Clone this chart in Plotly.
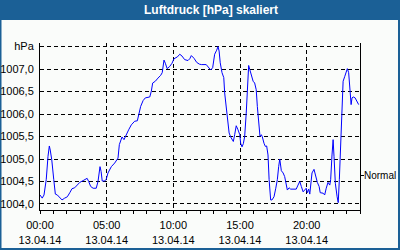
import plotly.graph_objects as go

# ---- data ----
times = ["00:00","00:10","00:18","00:28","00:36","00:42","00:46","00:53","01:02","01:09",
         "01:18","01:29","01:39","01:51","02:03","02:14","02:24","02:36","02:48","02:59",
         "03:14","03:32","03:39","03:48","03:59","04:13","04:21","04:30","04:35","04:40",
         "04:51","04:58","05:06","05:21","05:36","05:51","05:57","06:03","06:09","06:18",
         "06:27","06:39","06:51","07:06","07:18","07:26","07:33","07:44","07:54","08:14",
         "08:21","08:27","08:39","08:51","09:03","09:10","09:12","09:18","09:24","09:32",
         "09:44","09:54","10:03","10:18","10:29","10:39","10:51","11:06","11:14","11:21",
         "11:33","11:45","11:57","12:06","12:28","12:41","12:48","12:57","13:06","13:15",
         "13:21","13:26","13:31","13:39","13:47","13:51","13:57","14:03","14:11","14:18",
         "14:25","14:30","14:36","14:43","14:51","14:59","15:03","15:09","15:15","15:21",
         "15:28","15:33","15:39","15:44","15:51","15:59","16:06","16:13","16:18","16:24",
         "16:30","16:36","16:40","16:48","16:54","17:00","17:06","17:11","17:18","17:24",
         "17:33","17:41","17:48","17:54","17:59","18:06","18:14","18:21","18:27","18:33",
         "18:41","18:48","19:03","19:13","19:21","19:29","19:36","19:44","19:51","19:58",
         "20:03","20:09","20:14","20:18","20:24","20:33","20:41","20:48","20:56","21:01",
         "21:14","21:21","21:28","21:36","21:44","21:48","21:54","21:59","22:03","22:09",
         "22:17","22:22","22:27","22:33","22:39","22:44","22:51","22:58","23:03","23:09",
         "23:15","23:20","23:24","23:30","23:38","23:48","23:54"]
pressure = [1004.20,1004.13,1004.20,1004.54,1005.06,1005.29,1005.20,1004.98,1004.54,1004.22,
            1004.20,1004.15,1004.09,1004.13,1004.16,1004.25,1004.34,1004.36,1004.42,1004.48,
            1004.52,1004.57,1004.50,1004.39,1004.35,1004.35,1004.50,1004.83,1004.72,1004.51,
            1004.51,1004.55,1004.69,1004.83,1004.91,1005.02,1005.32,1005.43,1005.49,1005.43,
            1005.54,1005.65,1005.76,1005.84,1005.85,1005.99,1006.17,1006.30,1006.36,1006.38,
            1006.51,1006.69,1006.73,1006.80,1006.86,1006.92,1007.03,1007.20,1007.13,1007.01,
            1007.06,1007.13,1007.23,1007.27,1007.33,1007.29,1007.21,1007.19,1007.23,1007.30,
            1007.24,1007.15,1007.11,1007.10,1007.10,1007.03,1006.98,1007.03,1007.33,1007.42,
            1007.50,1007.40,1007.14,1006.92,1006.81,1006.47,1006.17,1005.88,1005.58,1005.49,
            1005.43,1005.39,1005.54,1005.74,1005.65,1005.54,1005.35,1005.27,1005.34,1005.50,
            1006.02,1006.62,1007.08,1006.99,1006.84,1006.73,1006.69,1006.54,1006.17,1005.80,
            1005.50,1005.54,1005.50,1005.35,1005.28,1005.29,1005.09,1004.54,1004.09,1004.09,
            1004.16,1004.35,1004.54,1004.83,1005.00,1004.74,1004.69,1004.61,1004.46,1004.31,
            1004.36,1004.33,1004.33,1004.33,1004.42,1004.50,1004.39,1004.27,1004.31,1004.35,
            1004.25,1004.33,1004.22,1004.39,1004.69,1004.77,1004.61,1004.48,1004.39,1004.25,
            1004.24,1004.20,1004.35,1004.48,1004.42,1004.54,1005.09,1005.43,1005.06,1004.46,
            1004.16,1004.03,1004.54,1005.50,1006.32,1006.73,1006.83,1006.92,1007.01,1006.92,
            1006.62,1006.21,1006.36,1006.38,1006.36,1006.26,1006.21]

date = "2014-04-13"
x_tick_hours = ["00:00", "05:00", "10:00", "15:00", "20:00"]
x_tick_date = "13.04.14"
y_tick_vals = [1004.0, 1004.5, 1005.0, 1005.5, 1006.0, 1006.5, 1007.0, 1007.5]
y_tick_text = ["1004,0", "1004,5", "1005,0", "1005,5", "1006,0", "1006,5", "1007,0", "hPa"]
normal_value = 1004.63
normal_label = "Normal"
title = "Luftdruck [hPa] skaliert"

# ---- figure ----
FONT = "Liberation Sans"
BLUE = "#1b6096"
BG = "#fafcfa"
DASH = "4px,3px"
PW, PH = 320, 167  # plot area size in px

x_vals = [f"{date} {t}" for t in times]
yr = [1003.866, 1007.58]

fig = go.Figure()
fig.add_trace(go.Scatter(x=x_vals, y=pressure, mode="lines",
                         line=dict(color="#0000ff", width=1), showlegend=False,
                         hoverinfo="skip"))
# invisible trace to activate the right axis
fig.add_trace(go.Scatter(x=[x_vals[0]], y=[normal_value], yaxis="y2", mode="lines",
                         line=dict(width=0), showlegend=False, hoverinfo="skip"))

fig.update_layout(
    width=400, height=250,
    margin=dict(l=40, r=40, t=43, b=40, pad=0, autoexpand=False),
    paper_bgcolor=BG, plot_bgcolor=BG,
    font=dict(family=FONT, size=11, color="black"),
    xaxis=dict(
        type="date", automargin=False,
        range=[f"{date} 00:00", "2014-04-14 00:00"],
        tickvals=[f"{date} {h}" for h in x_tick_hours],
        ticktext=[f"{h}<br>{x_tick_date}" for h in x_tick_hours],
        ticks="outside", ticklen=3, tickcolor="black", tickwidth=1,
        minor=dict(dtick=3600000, ticks="outside", ticklen=3, tickcolor="black",
                   showgrid=False),
        showgrid=True, gridcolor="black", gridwidth=1, griddash=DASH,
        showline=True, linecolor="black", linewidth=1,
        zeroline=False, ticklabelstandoff=2,
    ),
    yaxis=dict(
        range=yr, automargin=False,
        tickvals=y_tick_vals, ticktext=y_tick_text,
        ticks="", showgrid=True, gridcolor="black", gridwidth=1, griddash=DASH,
        showline=True, linecolor="black", linewidth=1, zeroline=False,
        ticklabelstandoff=3,
    ),
    yaxis2=dict(
        range=yr, overlaying="y", side="right", automargin=False,
        tickvals=[normal_value], showticklabels=False,
        ticks="outside", ticklen=3, tickcolor="black",
        showgrid=False, showline=True, linecolor="black", linewidth=1,
        zeroline=False,
    ),
    shapes=[
        dict(type="rect", xref="paper", yref="paper", x0=-40 / PW, x1=1 + 40 / PW,
             y0=1 + 23 / PH, y1=1 + 43 / PH, fillcolor=BLUE, line=dict(width=0),
             layer="above"),
        # figure border
        dict(type="rect", xref="paper", yref="paper",
             x0=-39.5 / PW, x1=1 + 39 / PW, y0=-39 / PH, y1=1 + 43 / PH,
             line=dict(color=BLUE, width=2), fillcolor="rgba(0,0,0,0)", layer="below"),
    ],
    annotations=[
        dict(text=f"<b>{title}</b>", xref="paper", yref="paper",
             x=(211 - 40) / PW, y=1 + 33 / PH, xanchor="center", yanchor="middle",
             showarrow=False, font=dict(family=FONT, size=12, color="white")),
        dict(text=normal_label, xref="paper", yref="y",
             x=1, y=normal_value, xanchor="left", yanchor="middle", xshift=3,
             showarrow=False, borderpad=0,
             font=dict(family=FONT, size=10, color="black")),
    ],
)

fig.write_html("out.html")
